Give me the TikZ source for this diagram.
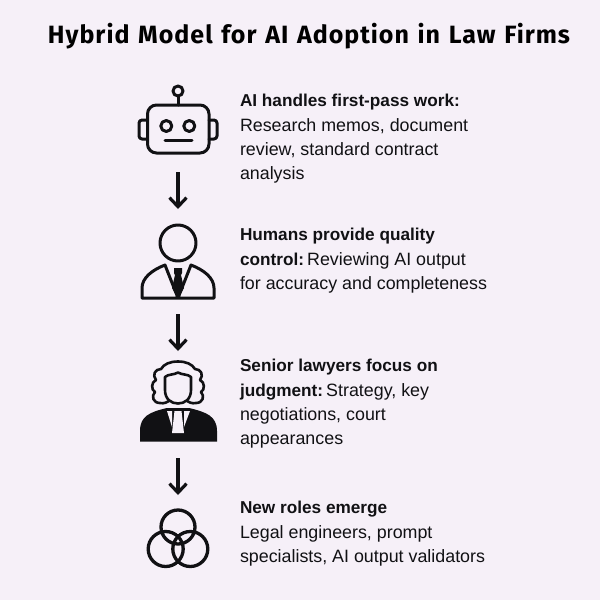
\documentclass[tikz,border=0pt]{standalone}
\usepackage{fontspec}
\setmainfont{Liberation Sans}
\newfontfamily\titlefont[LetterSpace=4.0,WordSpace=1.25]{Fira Sans Bold}
\newfontfamily\boldface{Liberation Sans Bold}
\newcommand{\bb}[1]{{\boldface\fontsize{17.2}{24.5}\selectfont #1}}
\newcommand{\tightgap}{\hspace{-3.5pt}}
\definecolor{bgc}{HTML}{F6F0F8}
\definecolor{ink}{HTML}{111114}
\usetikzlibrary{arrows.meta}
\tikzset{
  x=1pt,y=-1pt,
  anchorbox/.style={inner sep=0,outer sep=0,minimum width=70pt},
  flow/.style={draw=ink,line width=3.2pt,-{Straight Barb[length=9pt,width=17pt,line width=3.2pt]}},
  icon/.style={draw=ink,line width=3pt,line join=round,line cap=round},
  body/.style={anchor=north west,align=left,inner sep=0,outer sep=0,text=ink,font=\fontsize{17.85}{24.3}\selectfont},
  titletext/.style={inner sep=0,outer sep=0,text=black,font=\titlefont\fontsize{25}{30}\selectfont}
}
\begin{document}
\begin{tikzpicture}
\fill[bgc] (0,0) rectangle (600,600);
\useasboundingbox (0,0) rectangle (600,600);
\node[titletext] (title) at (309,36) {Hybrid Model for AI Adoption in Law Firms};
% layout anchors for icons
\node[anchorbox,minimum height=96pt] (robot) at (178,124) {};
\node[anchorbox,minimum height=105pt] (person) at (178,261.5) {};
\node[anchorbox,minimum height=107pt] (judge) at (178,404.5) {};
\node[anchorbox,minimum height=80pt] (rings) at (178,535) {};
\draw[flow] (robot.south) -- (person.north);
\draw[flow] (person.south) -- (judge.north);
\draw[flow] (judge.south) -- (rings.north);
% robot
\draw[icon] (178,91) circle (5);
\draw[icon] (178,96) -- (178,105);
\draw[icon,rounded corners=9pt] (147.5,105) rectangle (209,153);
\draw[icon,rounded corners=3pt] (147.5,120) -- (139,120) -- (139,139) -- (147.5,139);
\draw[icon,rounded corners=3pt] (209,120) -- (217,120) -- (217,139) -- (209,139);
\draw[icon] (166.3,126) circle (5.5);
\draw[icon] (189.3,126) circle (5.5);
\draw[icon] (165,140.5) -- (192,140.5);
% person
\draw[icon] (178,243) circle (18);
\draw[icon] (142,298) -- (142,288) .. controls (142,278) and (152,270) .. (165,265) -- (178,298) -- (191,265) .. controls (204,270) and (214,278) .. (214,288) -- (214,298) -- cycle;
\fill[ink] (174,268) -- (182,268) -- (182,273) -- (181,275) -- (184,288) -- (178,298) -- (172,288) -- (175,275) -- (174,273) -- cycle;
% judge
\fill[ink] (140,441.5) -- (140,431) .. controls (140,416) and (150,412) .. (167,408) -- (189,408) .. controls (206,412) and (217,416) .. (217,431) -- (217,441.5) -- cycle;
\fill[bgc] (167,411) -- (172,411) -- (172,427) -- cycle;
\fill[bgc] (184,411) -- (190,411) -- (184,427) -- cycle;
\fill[bgc] (174.5,411) -- (181.5,411) -- (184,433) -- (172,433) -- cycle;
\draw[icon,fill=bgc,line width=2.6pt] (178,361.5) .. controls (170,361.5) and (164,364) .. (161,369)
  .. controls (155,369) and (152,375) .. (156,380)
  .. controls (151,382) and (151,390) .. (155,392)
  .. controls (151,396) and (153,403) .. (160,403)
  .. controls (164,404) and (168,402) .. (170,400) -- (186,400)
  .. controls (188,402) and (192,404) .. (196,403)
  .. controls (203,403) and (205,396) .. (201,392)
  .. controls (205,390) and (205,382) .. (200,380)
  .. controls (204,375) and (201,369) .. (195,369)
  .. controls (192,364) and (186,361.5) .. (178,361.5) -- cycle;
\draw[icon,fill=bgc,line width=2.6pt] (178,372.5) .. controls (174,375) and (168,374) .. (165,377) -- (165,390) .. controls (165,399) and (171,403.5) .. (178,403.5) .. controls (185,403.5) and (191,399) .. (191,390) -- (191,377) .. controls (188,374) and (182,375) .. (178,372.5) -- cycle;
% rings
\draw[icon,line width=3.3pt] (178,527) circle (17);
\draw[icon,line width=3.3pt] (165.7,549) circle (17.5);
\draw[icon,line width=3.3pt] (190.3,549) circle (17.5);
% texts
\node[body] (t1) at (240,94.5) {\bb{AI handles first-pass work:}\\Research memos, document\\review, standard contract\\analysis};
\node[body] (t2) at (240,228.5) {\bb{Humans provide quality}\\\bb{control:} \tightgap Reviewing AI output\\for accuracy and completeness};
\node[body] (t3) at (240,359.5) {\bb{Senior lawyers focus on}\\\bb{judgment:} \tightgap Strategy, key\\negotiations, court\\appearances};
\node[body] (t4) at (240,501.5) {\bb{New roles emerge}\\Legal engineers, prompt\\specialists, AI output validators};
\end{tikzpicture}
\end{document}
